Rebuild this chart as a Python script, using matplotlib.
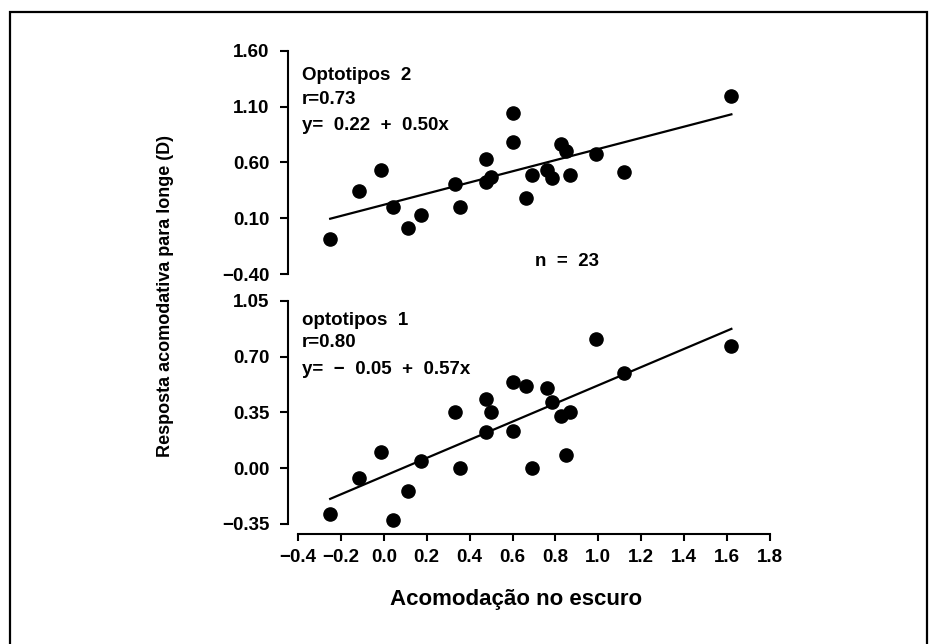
"""Dark accommodation vs distance accommodative response, two optotype sets."""

import matplotlib.pyplot as plt
import matplotlib.patches as patches
import numpy as np

plt.rcParams["font.family"] = ["Liberation Sans", "DejaVu Sans"]
plt.rcParams["font.weight"] = "bold"

# Dark accommodation (D), shared by both panels
dark_acc = [-0.25, -0.115, -0.015, 0.043, 0.112, 0.172, 0.334, 0.357, 0.474, 0.476,
            0.50, 0.60, 0.60, 0.661, 0.69, 0.762, 0.785, 0.824, 0.85, 0.87,
            0.987, 1.12, 1.62]

# Optotipos 2 (top panel)
resp_opt2 = [-0.09, 0.345, 0.529, 0.198, 0.014, 0.124, 0.407, 0.202, 0.633, 0.425,
             0.47, 1.04, 0.785, 0.282, 0.487, 0.529, 0.463, 0.764, 0.698, 0.487,
             0.678, 0.511, 1.19]

# optotipos 1 (bottom panel)
resp_opt1 = [-0.286, -0.062, 0.102, -0.323, -0.142, 0.042, 0.352, -0.002, 0.436, 0.227,
             0.352, 0.542, 0.231, 0.517, 0.0, 0.5, 0.415, 0.327, 0.083, 0.352,
             0.808, 0.598, 0.767]

fit_opt2 = (0.22, 0.50)   # intercept, slope
fit_opt1 = (-0.05, 0.57)

yticks_top = [-0.40, 0.10, 0.60, 1.10, 1.60]
yticks_bot = [-0.35, 0.00, 0.35, 0.70, 1.05]
xticks = [-0.4, -0.2, 0.0, 0.2, 0.4, 0.6, 0.8, 1.0, 1.2, 1.4, 1.6, 1.8]

W, H = 933, 644
fig = plt.figure(figsize=(W / 100, H / 100), dpi=100)

# outer frame of the figure (bottom edge runs off the page)
frame = patches.Rectangle((10 / W, -0.1), (927 - 10) / W, 1.1 - 12 / H,
                          transform=fig.transFigure, fill=False,
                          edgecolor="black", linewidth=1.6)
fig.patches.append(frame)

left = 298 / W
width = (770 - 298) / W
ax_top = fig.add_axes([left, 1 - 274 / H, width, (274 - 50.7) / H])
ax_bot = fig.add_axes([left, 1 - 524 / H, width, (524 - 300.7) / H])

x = np.array(dark_acc)
xfit = np.array([x.min(), x.max()])

for ax, y, fit, yt in [(ax_top, resp_opt2, fit_opt2, yticks_top),
                       (ax_bot, resp_opt1, fit_opt1, yticks_bot)]:
    ax.scatter(x, y, s=90, color="black", zorder=3, clip_on=False)
    ax.plot(xfit, fit[0] + fit[1] * xfit, color="black", linewidth=1.6)
    ax.set_xlim(-0.4, 1.8)
    ax.set_ylim(yt[0], yt[-1])
    ax.set_yticks(yt)
    ax.set_yticklabels([f"{v:.2f}".replace("-", "\u2212") for v in yt])
    for side in ["top", "right"]:
        ax.spines[side].set_visible(False)
    ax.spines["left"].set_position(("outward", 7.2))
    ax.spines["left"].set_linewidth(1.5)
    ax.tick_params(axis="y", direction="out", length=5.5, width=1.5,
                   pad=8, labelsize=13.5)
    ax.patch.set_visible(False)

# top panel has no x axis
ax_top.spines["bottom"].set_visible(False)
ax_top.set_xticks([])

ax_bot.spines["bottom"].set_position(("outward", 7.2))
ax_bot.spines["bottom"].set_linewidth(1.5)
ax_bot.set_xticks(xticks)
ax_bot.set_xticklabels([f"{v:.1f}".replace("-", "\u2212") for v in xticks])
ax_bot.tick_params(axis="x", direction="out", length=5, width=1.5,
                   pad=6, labelsize=13.5)

# panel annotations
fs = 13.5
fig.text(302 / W, 1 - 75.7 / H, "Optotipos  2", fontsize=fs, va="center")
fig.text(302 / W, 1 - 99 / H, "r=0.73", fontsize=fs, va="center")
fig.text(302 / W, 1 - 126 / H, "y=  0.22  +  0.50x", fontsize=fs, va="center")
fig.text(567 / W, 1 - 261.7 / H, "n  =  23", fontsize=fs, va="center", ha="center")

fig.text(302 / W, 1 - 320 / H, "optotipos  1", fontsize=fs, va="center")
fig.text(302 / W, 1 - 342.7 / H, "r=0.80", fontsize=fs, va="center")
fig.text(302 / W, 1 - 369 / H, "y=  \u2212  0.05  +  0.57x", fontsize=fs, va="center")

# axis titles
fig.text(166 / W, 1 - 296 / H, "Resposta acomodativa para longe (D)",
         fontsize=13, rotation=90, va="center", ha="center")
fig.text(516 / W, 1 - 600 / H, "Acomodação no escuro",
         fontsize=16, va="center", ha="center")

fig.savefig("out.png", dpi=100)
